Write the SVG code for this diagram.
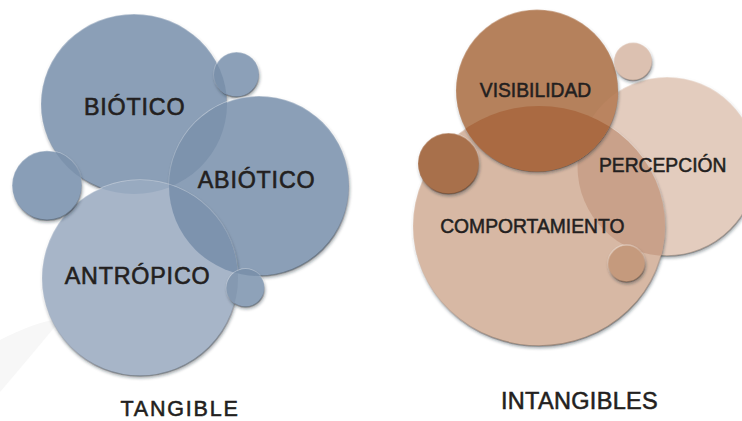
<svg xmlns="http://www.w3.org/2000/svg" width="742" height="421" viewBox="0 0 742 421">
  <style>
    .lbl { font-family: "Liberation Sans", Arial, Helvetica, sans-serif; fill: #231f20; text-anchor: middle; stroke: #231f20; stroke-width: 0.6px; }
    .big { font-size: 23.3px; letter-spacing: 0.8px; }
    .mid { font-size: 19.3px; stroke-width: 0.5px; }
    .ttl { font-family: "Liberation Sans", Arial, Helvetica, sans-serif; fill: #231f20; text-anchor: middle; stroke: #231f20; stroke-width: 0.55px; }
    .bub { filter: url(#shade); stroke: url(#rim); stroke-width: 1.5; }
  </style>
  <defs>
    <filter id="shade" x="-20%" y="-20%" width="140%" height="140%">
      <feDropShadow dx="0.8" dy="2" stdDeviation="1.6" flood-color="#1e2630" flood-opacity="0.4"/>
    </filter>
    <linearGradient id="rim" x1="0" y1="0" x2="0.3" y2="1">
      <stop offset="0" stop-color="#ffffff" stop-opacity="0.45"/>
      <stop offset="0.5" stop-color="#ffffff" stop-opacity="0.08"/>
      <stop offset="1" stop-color="#000000" stop-opacity="0.25"/>
    </linearGradient>
    <clipPath id="cBio"><ellipse cx="134" cy="104" rx="93" ry="90"/></clipPath>
    <clipPath id="cAbio"><circle cx="259" cy="186" r="90"/></clipPath>
    <clipPath id="cAntro"><circle cx="140" cy="278" r="98"/></clipPath>
    <clipPath id="cVis"><circle cx="537" cy="90.5" r="81"/></clipPath>
    <clipPath id="cComp"><ellipse cx="539" cy="226" rx="126" ry="120"/></clipPath>
    <clipPath id="cPerc"><circle cx="667" cy="166.5" r="89.5"/></clipPath>
  </defs>

  <rect width="742" height="421" fill="#ffffff"/>
  <path d="M0 340 Q35 322 62 318 Q40 345 0 392 Z" fill="#f7f7f7"/>

  <!-- TANGIBLE cluster -->
  <g id="node-biotico">
    <ellipse class="bub" cx="134" cy="104" rx="93" ry="90" fill="#8b9fb7"/>
  </g>
  <g id="node-small-top-left">
    <circle class="bub" cx="236.5" cy="74.5" r="22.5" fill="#8ca0b8"/>
    <g clip-path="url(#cBio)"><circle cx="236.5" cy="74.5" r="22.5" fill="#7b91ab"/></g>
  </g>
  <g id="node-abiotico">
    <circle class="bub" cx="259" cy="186" r="90" fill="#8b9fb7"/>
    <g clip-path="url(#cBio)"><circle cx="259" cy="186" r="90" fill="#7d93ad"/></g>
  </g>
  <g id="node-antropico">
    <circle class="bub" cx="140" cy="278" r="98" fill="#a7b5c8"/>
    <g clip-path="url(#cBio)"><circle cx="140" cy="278" r="98" fill="#98aac0"/></g>
    <g clip-path="url(#cAbio)"><circle cx="140" cy="278" r="98" fill="#7d93ae"/></g>
  </g>
  <g id="node-small-left">
    <circle class="bub" cx="47" cy="185.5" r="34.8" fill="#899eb7"/>
    <g clip-path="url(#cBio)"><circle cx="47" cy="185.5" r="34.8" fill="#7d93ad"/></g>
  </g>
  <g id="node-small-bottom-left">
    <circle class="bub" cx="245.5" cy="288" r="19" fill="#8ea2b9"/>
    <g clip-path="url(#cAntro)"><circle cx="245.5" cy="288" r="19" fill="#8599b1"/></g>
    <g clip-path="url(#cAbio)"><circle cx="245.5" cy="288" r="19" fill="#7b91ab"/></g>
  </g>

  <!-- INTANGIBLES cluster -->
  <g id="node-percepcion">
    <circle class="bub" cx="667" cy="166.5" r="89.5" fill="#e3ccbe"/>
  </g>
  <g id="node-comportamiento">
    <ellipse class="bub" cx="539" cy="226" rx="126" ry="120" fill="#d7b8a4"/>
    <g clip-path="url(#cPerc)"><ellipse cx="539" cy="226" rx="126" ry="120" fill="#c9a18a"/></g>
  </g>
  <g id="node-visibilidad">
    <circle class="bub" cx="537" cy="90.5" r="81" fill="#b5815c"/>
    <g clip-path="url(#cPerc)"><circle cx="537" cy="90.5" r="81" fill="#ba8460"/></g>
    <g clip-path="url(#cComp)"><circle cx="537" cy="90.5" r="81" fill="#aa6a42"/></g>
  </g>
  <g id="node-small-top-right">
    <circle class="bub" cx="633" cy="61.5" r="19" fill="#dcc1b1"/>
  </g>
  <g id="node-small-left-right">
    <circle class="bub" cx="448.5" cy="163.5" r="30.5" fill="#a8704b"/>
  </g>
  <g id="node-small-bottom-right">
    <circle class="bub" cx="626.5" cy="263.5" r="18.5" fill="#c59a7d"/>
  </g>

  <g id="connectors"></g>

  <g id="labels">
    <text id="label-biotico" class="lbl big" x="134.7" y="115">BIÓTICO</text>
    <text id="label-abiotico" class="lbl big" x="256.6" y="188.3">ABIÓTICO</text>
    <text id="label-antropico" class="lbl big" x="137.6" y="284">ANTRÓPICO</text>
    <text id="label-tangible" class="ttl" x="180" y="415.5" font-size="21.5" letter-spacing="1.8">TANGIBLE</text>
    <text id="label-visibilidad" class="lbl mid" x="535.5" y="96.7" font-size="19.5">VISIBILIDAD</text>
    <text id="label-percepcion" class="lbl mid" x="662.7" y="172.3" font-size="19.1">PERCEPCIÓN</text>
    <text id="label-comportamiento" class="lbl mid" x="532.3" y="232.7" font-size="18.8">COMPORTAMIENTO</text>
    <text id="label-intangibles" class="ttl" x="579.5" y="409" font-size="23.5" letter-spacing="0.3">INTANGIBLES</text>
  </g>
</svg>
